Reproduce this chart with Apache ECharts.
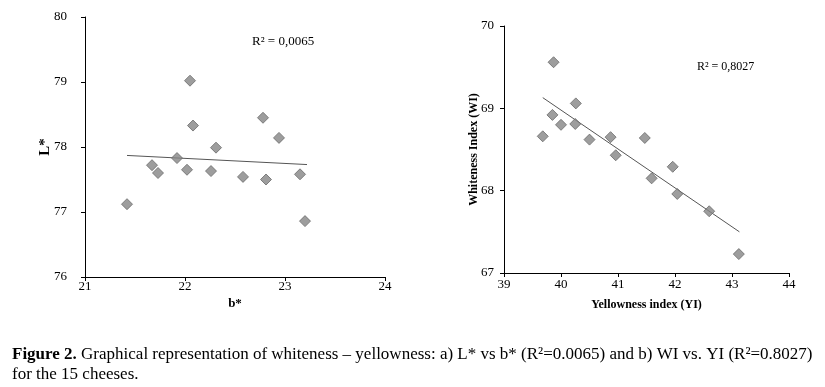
<!DOCTYPE html>
<html>
<head>
<meta charset="utf-8">
<script src="https://cdn.jsdelivr.net/npm/echarts@6/dist/echarts.min.js"></script>
<style>
  html, body { margin: 0; padding: 0; background: #fff; }
  #main { width: 825px; height: 387px; }
</style>
</head>
<body>
<div id="main"></div>
<script>
// a) L* vs b*
var bStar = [21.42, 21.67, 21.73, 21.92, 22.02, 22.05, 22.08, 22.26, 22.31, 22.58, 22.78, 22.81, 22.94, 23.15, 23.20];
var lStar = [77.12, 77.72, 77.60, 77.83, 77.65, 79.02, 78.33, 77.63, 77.99, 77.54, 78.45, 77.50, 78.14, 77.58, 76.86];
var trendAx = [21.42, 23.22];
var trendAy = [77.87, 77.73];

// b) WI vs YI
var yi = [39.68, 39.85, 39.87, 40.00, 40.25, 40.26, 40.50, 40.87, 40.96, 41.47, 41.59, 41.96, 42.04, 42.60, 43.12];
var wi = [68.66, 68.92, 69.56, 68.80, 68.81, 69.06, 68.62, 68.65, 68.43, 68.64, 68.15, 68.29, 67.96, 67.75, 67.23];
var trendBx = [39.68, 43.13];
var trendBy = [69.13, 67.50];

var serif = 'Liberation Serif';

function pairs(xs, ys) {
  var out = [];
  for (var i = 0; i < xs.length; i++) out.push([xs[i], ys[i]]);
  return out;
}

var chart = echarts.init(document.getElementById('main'));

// axis style shared by the 4 axes
function axis(extra, labelMargin) {
  return Object.assign({
    axisLine: { lineStyle: { color: '#000', width: 1 } },
    axisTick: { show: true, length: 4, lineStyle: { color: '#000' } },
    axisLabel: { color: '#000', fontFamily: serif, fontSize: 13, margin: labelMargin },
    splitLine: { show: false },
    nameLocation: 'middle',
    nameMoveOverlap: false,
    nameTextStyle: { color: '#000', fontFamily: serif, fontWeight: 'bold', fontSize: 13 }
  }, extra);
}

var pointStyle = { color: '#858585', borderColor: '#6a6a6a', borderWidth: 1 };

var option = {
  animation: false,
  grid: [
    { left: 85, top: 17, width: 300, height: 260 },
    { left: 504, top: 26, width: 285, height: 247 }
  ],
  xAxis: [
    axis({
      gridIndex: 0, type: 'value', min: 21, max: 24, interval: 1,
      name: 'b*', nameGap: 20
    }, 3),
    axis({
      gridIndex: 1, type: 'value', min: 39, max: 44, interval: 1,
      name: 'Yellowness index (YI)', nameGap: 26,
      nameTextStyle: { color: '#000', fontFamily: serif, fontWeight: 'bold', fontSize: 12 }
    }, 5)
  ],
  yAxis: [
    axis({
      gridIndex: 0, type: 'value', min: 76, max: 80, interval: 1,
      name: 'L*', nameGap: 32,
      nameTextStyle: { color: '#000', fontFamily: serif, fontWeight: 'bold', fontSize: 15 }
    }, 18),
    axis({
      gridIndex: 1, type: 'value', min: 67, max: 70, interval: 1,
      name: 'Whiteness Index (WI)', nameGap: 24,
      nameTextStyle: { color: '#000', fontFamily: serif, fontWeight: 'bold', fontSize: 12 }
    }, 10)
  ],
  series: [
    {
      type: 'line', xAxisIndex: 0, yAxisIndex: 0,
      data: pairs(trendAx, trendAy), symbol: 'none',
      lineStyle: { color: '#555', width: 1 }, z: 1
    },
    {
      type: 'scatter', xAxisIndex: 0, yAxisIndex: 0,
      data: pairs(bStar, lStar), symbol: 'diamond', symbolSize: 11,
      itemStyle: pointStyle, z: 2
    },
    {
      type: 'line', xAxisIndex: 1, yAxisIndex: 1,
      data: pairs(trendBx, trendBy), symbol: 'none',
      lineStyle: { color: '#555', width: 1 }, z: 1
    },
    {
      type: 'scatter', xAxisIndex: 1, yAxisIndex: 1,
      data: pairs(yi, wi), symbol: 'diamond', symbolSize: 11,
      itemStyle: pointStyle, z: 2
    }
  ],
  graphic: [
    {
      type: 'text', left: 252, top: 35,
      style: { text: 'R² = 0,0065', fill: '#000', font: '13px "Liberation Serif"' }
    },
    {
      type: 'text', left: 697, top: 61,
      style: { text: 'R² = 0,8027', fill: '#000', font: '12px "Liberation Serif"' }
    },
    {
      type: 'text', left: 12, top: 345,
      style: {
        text: '{b|Figure 2.} Graphical representation of whiteness – yellowness: a) L* vs b* (R²=0.0065) and b) WI vs. YI (R²=0.8027)\nfor the 15 cheeses.',
        fill: '#000',
        font: '17px "Liberation Serif"',
        lineHeight: 20,
        rich: {
          b: { fontWeight: 'bold', fontFamily: serif, fontSize: 17, fill: '#000' }
        }
      }
    }
  ]
};

chart.setOption(option);
</script>
</body>
</html>
